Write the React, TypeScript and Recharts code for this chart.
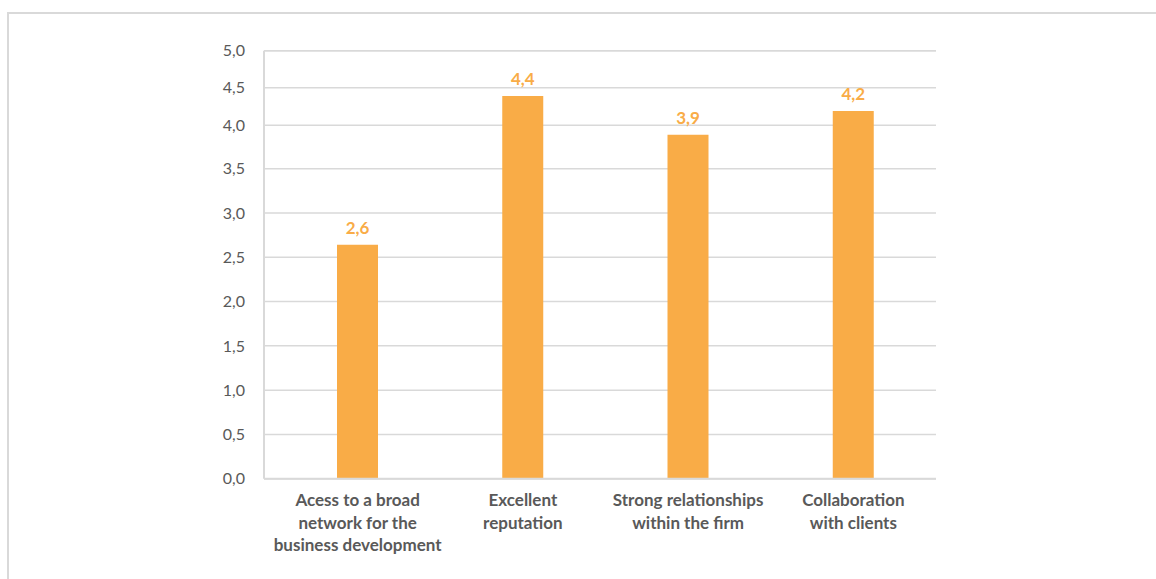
import { Bar, BarChart, CartesianGrid, LabelList, XAxis, YAxis } from "recharts";

// categories, split into the lines shown under each bar
const categories = [
  "Acess to a broad network for the business development",
  "Excellent reputation",
  "Strong relationships within the firm",
  "Collaboration with clients"
];
const categoryLines = [
  ["Acess to a broad", "network for the", "business development"],
  ["Excellent", "reputation"],
  ["Strong relationships", "within the firm"],
  ["Collaboration", "with clients"]
];
const scores = [2.64, 4.39, 3.89, 4.19];
const yTicks = [0, 0.5, 1, 1.5, 2, 2.5, 3, 3.5, 4, 4.5, 5];

const data = categories.map((name, i) => ({ name, score: scores[i] }));

const ORANGE = "#F9AC47";
const GRID = "#d9d9d9";
const TEXT = "#595959";
const FONT = "Lato, 'Noto Sans', sans-serif";

// the source axis is a bit squeezed above 3,5 -> piecewise linear scale
const BREAKS = [0, 3.5, 4, 4.5, 5];
const STOPS = [0, 0.7243, 0.8257, 0.9136, 1];

function pieceScale(): any {
  let dom: number[] = [0, 5];
  let rng: number[] = [0, 1];
  const frac = (v: number) => {
    if (v <= BREAKS[0]) return STOPS[0];
    for (let i = 0; i < BREAKS.length - 1; i++) {
      if (v <= BREAKS[i + 1]) {
        const t = (v - BREAKS[i]) / (BREAKS[i + 1] - BREAKS[i]);
        return STOPS[i] + t * (STOPS[i + 1] - STOPS[i]);
      }
    }
    return STOPS[STOPS.length - 1];
  };
  const scale: any = (v: number) => rng[0] + frac(v) * (rng[1] - rng[0]);
  scale.domain = (d?: number[]) => {
    if (d === undefined) return dom.slice();
    dom = d.slice();
    return scale;
  };
  scale.range = (r?: number[]) => {
    if (r === undefined) return rng.slice();
    rng = r.slice();
    return scale;
  };
  scale.copy = () => pieceScale().domain(dom).range(rng);
  scale.ticks = () => yTicks;
  scale.nice = () => scale;
  scale.clamp = () => scale;
  scale.invert = (px: number) => {
    const f = (px - rng[0]) / (rng[1] - rng[0]);
    for (let i = 0; i < STOPS.length - 1; i++) {
      if (f <= STOPS[i + 1]) {
        const t = (f - STOPS[i]) / (STOPS[i + 1] - STOPS[i]);
        return BREAKS[i] + t * (BREAKS[i + 1] - BREAKS[i]);
      }
    }
    return BREAKS[BREAKS.length - 1];
  };
  return scale;
}

const comma = (v: number) => Number(v).toFixed(1).replace(".", ",");

function CategoryTick({ x, y, index }: any) {
  const lines = categoryLines[index] || [];
  return (
    <text x={x} y={y + 27.5} textAnchor="middle" fill={TEXT} fontSize={17} fontWeight={700} fontFamily={FONT}>
      {lines.map((l, i) => (
        <tspan key={i} x={x} dy={i === 0 ? 0 : 22.3}>
          {l}
        </tspan>
      ))}
    </text>
  );
}

export default function App() {
  return (
    <div style={{ position: "absolute", left: 0, top: 0, width: 1156, height: 579, overflow: "hidden", background: "#fff" }}>
      <div
        style={{
          position: "absolute",
          left: 7,
          top: 12,
          width: 1200,
          height: 620,
          border: `2px solid ${GRID}`
        }}
      />
      <div style={{ position: "absolute", left: 0, top: 0 }}>
        <BarChart
          width={1156}
          height={579}
          data={data}
          margin={{ top: 50.7, right: 220, bottom: 0, left: 204 }}
        >
          <CartesianGrid vertical={false} stroke={GRID} strokeWidth={1.5} />
          <XAxis
            dataKey="name"
            interval={0}
            tickSize={0}
            tickMargin={0}
            tickLine={false}
            axisLine={{ stroke: GRID, strokeWidth: 2 }}
            padding={{ left: 11, right: 0 }}
            tick={<CategoryTick />}
            height={100.3}
          />
          <YAxis
            width={60}
            domain={[0, 5]}
            ticks={yTicks}
            scale={pieceScale()}
            interval={0}
            tickLine={false}
            tickSize={0}
            tickMargin={19}
            axisLine={{ stroke: GRID, strokeWidth: 2 }}
            tickFormatter={comma}
            tick={{ fill: TEXT, fontSize: 16, fontFamily: FONT }}
          />
          <Bar dataKey="score" fill={ORANGE} barSize={41} isAnimationActive={false}>
            <LabelList
              dataKey="score"
              position="top"
              offset={11}
              formatter={(v: any) => comma(v)}
              fill={ORANGE}
              fontSize={17}
              fontWeight={700}
              fontFamily={FONT}
            />
          </Bar>
        </BarChart>
      </div>
    </div>
  );
}
